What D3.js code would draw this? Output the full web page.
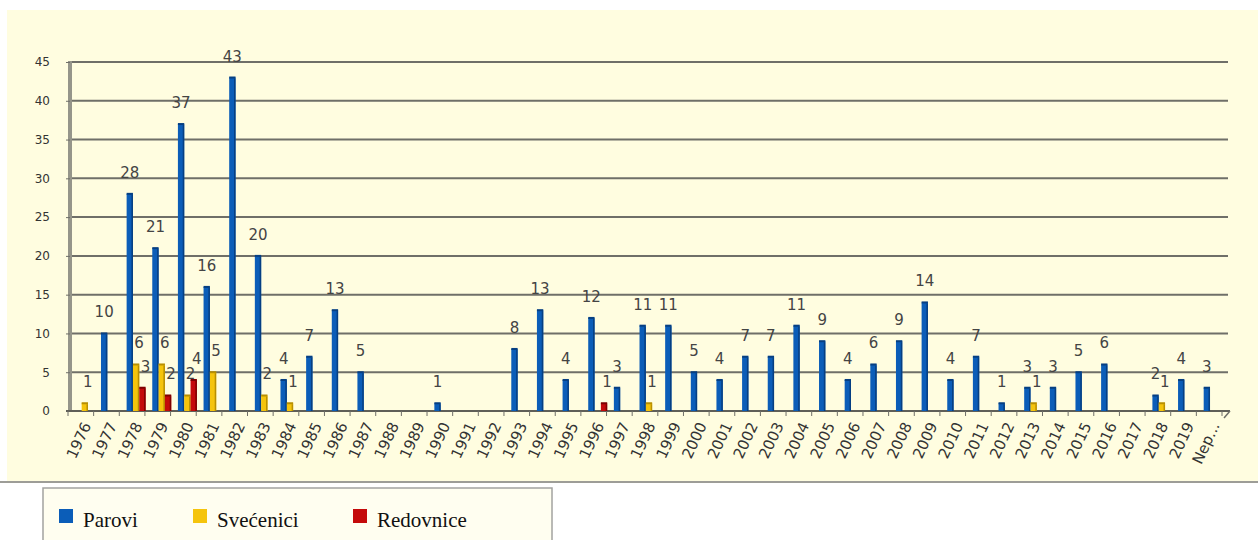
<!DOCTYPE html>
<html>
<head>
<meta charset="utf-8">
<script src="https://cdn.jsdelivr.net/npm/d3@7"></script>
<style>
  html, body { margin: 0; padding: 0; background: #ffffff; }
  svg { display: block; }
</style>
</head>
<body>
<svg id="chart" width="1258" height="540"></svg>
<script>
// categories (years + unknown)
const years = ["1976","1977","1978","1979","1980","1981","1982","1983","1984","1985",
  "1986","1987","1988","1989","1990","1991","1992","1993","1994","1995",
  "1996","1997","1998","1999","2000","2001","2002","2003","2004","2005",
  "2006","2007","2008","2009","2010","2011","2012","2013","2014","2015",
  "2016","2017","2018","2019","Nep..."];

const parovi = [0,10,28,21,37,16,43,20,4,7,
  13,5,0,0,1,0,0,8,13,4,
  12,3,11,11,5,4,7,7,11,9,
  4,6,9,14,4,7,1,3,3,5,
  6,0,2,4,3];

const svecenici = [1,0,6,6,2,5,0,2,1,0,
  0,0,0,0,0,0,0,0,0,0,
  0,0,1,0,0,0,0,0,0,0,
  0,0,0,0,0,0,0,1,0,0,
  0,0,1,0,0];

const redovnice = [0,0,3,2,4,0,0,0,0,0,
  0,0,0,0,0,0,0,0,0,0,
  1,0,0,0,0,0,0,0,0,0,
  0,0,0,0,0,0,0,0,0,0,
  0,0,0,0,0];

const seriesNames = ["Parovi", "Svećenici", "Redovnice"];
const yTicks = [0, 5, 10, 15, 20, 25, 30, 35, 40, 45];

const colors = {
  "Parovi":    { fill: "#0b5db8", edge: "#063f82" },
  "Svećenici": { fill: "#f5c40c", edge: "#b88f00" },
  "Redovnice": { fill: "#c40a0a", edge: "#7e0000" }
};

const svg = d3.select("#chart");

// outer panel
svg.append("rect")
  .attr("x", 7).attr("y", 10)
  .attr("width", 1251).attr("height", 471)
  .attr("fill", "#fffde0");
svg.append("line")
  .attr("x1", 0).attr("x2", 1258)
  .attr("y1", 482).attr("y2", 482)
  .attr("stroke", "#7d7d75").attr("stroke-width", 1.5);

const plotLeft = 72, plotRight = 1226, plotTop = 62, plotBottom = 411;

const x = d3.scaleBand()
  .domain(years)
  .range([plotLeft, plotRight])
  .paddingInner(0.26)
  .paddingOuter(0.13);

const xs = d3.scaleBand()
  .domain(seriesNames)
  .range([0, x.bandwidth()]);

const y = d3.scaleLinear()
  .domain([0, 45])
  .range([plotBottom, plotTop]);

// gridlines
svg.append("g")
  .selectAll("line")
  .data(yTicks.filter(d => d > 0))
  .join("line")
  .attr("x1", plotLeft).attr("x2", plotRight + 2)
  .attr("y1", d => y(d)).attr("y2", d => y(d))
  .attr("stroke", "#6f6f68")
  .attr("stroke-width", 2);

// left wall
svg.append("rect")
  .attr("x", 68).attr("y", y(45) - 1)
  .attr("width", 4).attr("height", plotBottom - y(45) + 1)
  .attr("fill", "#95958a");

// y axis labels
const yAxis = d3.axisLeft(y).tickValues(yTicks).tickSize(4).tickPadding(16);
const gy = svg.append("g")
  .attr("transform", `translate(${plotLeft - 2},0)`)
  .call(yAxis);
gy.select(".domain").remove();
gy.selectAll(".tick line").attr("stroke", "#6f6f68");
gy.selectAll("text")
  .attr("font-family", "DejaVu Sans, sans-serif")
  .attr("font-size", 12)
  .attr("fill", "#333");

// x axis (floor)
svg.append("line")
  .attr("x1", 66).attr("x2", plotRight + 4)
  .attr("y1", plotBottom).attr("y2", plotBottom)
  .attr("stroke", "#5f5f58").attr("stroke-width", 2);
svg.append("line")
  .attr("x1", plotRight + 4).attr("x2", plotRight - 2)
  .attr("y1", plotBottom).attr("y2", plotBottom + 7)
  .attr("stroke", "#6f6f68").attr("stroke-width", 1.5);

// category boundary ticks
const step = x.step();
svg.append("g")
  .selectAll("line")
  .data(d3.range(years.length + 1))
  .join("line")
  .attr("x1", i => plotLeft - 4 + i * step)
  .attr("x2", i => plotLeft - 4 + i * step)
  .attr("y1", plotBottom)
  .attr("y2", plotBottom + 5)
  .attr("stroke", "#6f6f68")
  .attr("stroke-width", 1);

// x labels
svg.append("g")
  .selectAll("text")
  .data(years)
  .join("text")
  .attr("transform", d => `translate(${x(d) + x.bandwidth() / 2 + 2},${plotBottom + 12}) rotate(-65)`)
  .attr("text-anchor", "end")
  .attr("dy", "0.35em")
  .attr("font-family", "DejaVu Sans, sans-serif")
  .attr("font-size", 15)
  .attr("fill", "#333")
  .text(d => d);

// bars
const seriesData = [
  { name: "Parovi", values: parovi },
  { name: "Svećenici", values: svecenici },
  { name: "Redovnice", values: redovnice }
];

const points = [];
seriesData.forEach(s => {
  s.values.forEach((v, i) => {
    if (v > 0) points.push({ series: s.name, cat: years[i], value: v });
  });
});

const barW = xs.bandwidth();
const bars = svg.append("g")
  .selectAll("g")
  .data(points)
  .join("g");

bars.append("rect")
  .attr("x", d => x(d.cat) + xs(d.series))
  .attr("y", d => y(d.value))
  .attr("width", barW)
  .attr("height", d => plotBottom - y(d.value))
  .attr("fill", d => colors[d.series].fill);

// right side shade
bars.append("rect")
  .attr("x", d => x(d.cat) + xs(d.series) + barW - 1.5)
  .attr("y", d => y(d.value) + 1)
  .attr("width", 1.5)
  .attr("height", d => plotBottom - y(d.value) - 1)
  .attr("fill", d => colors[d.series].edge);

// top cap
bars.append("rect")
  .attr("x", d => x(d.cat) + xs(d.series))
  .attr("y", d => y(d.value) - 1)
  .attr("width", barW)
  .attr("height", 2)
  .attr("fill", d => colors[d.series].edge);

// value labels
bars.append("text")
  .attr("x", d => x(d.cat) + xs(d.series) + barW / 2 + (d.series === "Parovi" ? 0 : 3))
  .attr("y", d => y(d.value) - 16)
  .attr("text-anchor", "middle")
  .attr("font-family", "DejaVu Sans, sans-serif")
  .attr("font-size", 15)
  .attr("fill", "#444")
  .text(d => d.value);

// legend
const legend = svg.append("g");
legend.append("rect")
  .attr("x", 43).attr("y", 488)
  .attr("width", 509).attr("height", 60)
  .attr("fill", "#fffef0")
  .attr("stroke", "#a3a3a0")
  .attr("stroke-width", 1.5);

const legendX = [59, 193, 353];
seriesNames.forEach((name, i) => {
  legend.append("rect")
    .attr("x", legendX[i]).attr("y", 509)
    .attr("width", 14).attr("height", 14)
    .attr("fill", colors[name].fill);
  legend.append("text")
    .attr("x", legendX[i] + 24).attr("y", 527)
    .style("font-family", "'Liberation Serif', 'DejaVu Serif', serif")
    .attr("font-size", 21)
    .attr("fill", "#111")
    .text(name);
});
</script>
</body>
</html>
